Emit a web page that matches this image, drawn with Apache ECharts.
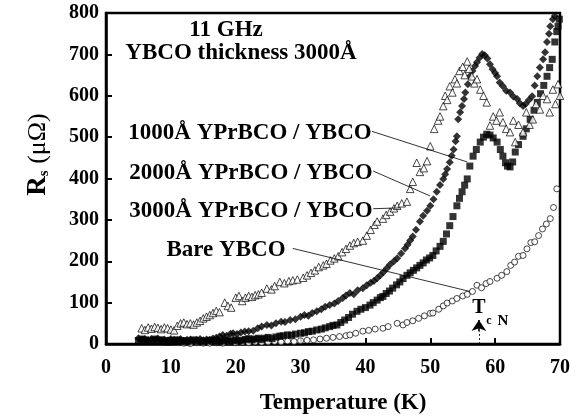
<!DOCTYPE html>
<html>
<head>
<meta charset="utf-8">
<script src="https://cdn.jsdelivr.net/npm/echarts@6/dist/echarts.min.js"></script>
<style>html,body{margin:0;padding:0;background:#fff}#c{width:577px;height:420px}</style>
</head>
<body>
<div id="c"></div>
<script>
// ---- data ----
const xTicks = [0, 10, 20, 30, 40, 50, 60, 70];
const yTicks = [0, 100, 200, 300, 400, 500, 600, 700, 800];

// 1000Å YPrBCO / YBCO (open triangles)
const t1000 = [5.5,6.0,6.5,7.0,7.5,8.0,8.5,9.0,9.5,10.0,10.5,11.0,11.5,12.0,12.5,13.0,13.5,14.0,14.5,15.0,15.5,16.0,16.5,17.0,17.5,18.3,18.8,19.3,20.0,20.5,21.0,21.5,22.0,22.5,23.0,23.5,24.0,24.8,25.5,26.0,26.8,27.5,28.2,28.8,29.5,30.4,31.0,31.6,32.2,32.8,33.5,34.0,34.6,35.2,35.8,36.4,37.0,37.6,38.2,38.8,39.6,40.2,40.8,41.4,41.8,42.7,43.2,43.8,44.4,44.9,45.6,46.4,46.9,47.3,47.9,48.4,49.0,49.5,50.0,50.6,51.2,51.5,52.0,52.3,52.6,53.0,53.4,53.8,54.1,54.5,55.0,55.3,55.7,56.0,56.4,56.8,57.2,57.7,58.2,58.7,59.2,59.7,60.2,60.7,61.2,61.7,62.3,62.8,63.1,63.6,64.3,64.8,65.3,65.8,66.3,66.9,67.4,68.0,68.4,68.9,69.3,69.7,70.0];
const r1000 = [38,34,40,37,41,39,36,40,38,35,33,44,50,52,48,50,47,52,56,62,66,70,75,80,77,100,92,88,112,116,104,112,116,114,118,120,124,134,132,140,150,147,152,154,156,160,166,172,178,186,190,194,202,207,212,222,230,238,244,247,250,262,276,288,296,303,312,320,328,334,340,344,375,392,438,416,425,442,478,520,540,550,575,600,590,623,608,640,630,660,670,650,683,665,647,630,640,615,600,584,528,550,540,560,536,520,512,540,488,530,512,560,530,543,580,567,600,592,560,615,580,628,600];

// 2000Å YPrBCO / YBCO (filled diamonds)
const t2000 = [5.0,5.5,6.0,6.5,7.0,7.5,8.0,8.5,9.0,9.5,10.0,10.5,11.0,11.5,12.0,12.5,13.0,13.5,14.0,14.5,15.0,15.5,16.0,16.5,17.0,17.5,18.0,18.6,19.2,19.6,20.2,20.8,21.4,22.0,22.7,23.4,24.0,24.8,25.5,26.2,27.0,27.6,28.4,29.2,30.0,30.6,31.2,31.8,32.5,33.2,33.8,34.5,35.2,35.8,36.5,37.0,37.6,38.2,38.8,39.6,40.2,40.8,41.3,41.8,42.3,42.8,43.3,43.8,44.4,44.9,45.5,46.1,46.5,46.9,47.3,47.8,48.4,48.9,49.5,50.0,50.5,51.0,51.5,52.0,52.3,52.6,53.0,53.3,53.6,53.9,54.1,54.3,54.6,54.9,55.2,55.4,55.8,56.1,56.5,56.9,57.2,57.6,58.0,58.4,58.8,59.2,59.6,60.0,60.3,60.7,61.2,61.7,62.3,62.8,63.4,63.8,64.3,64.7,65.2,65.7,66.1,66.5,66.9,67.4,67.7,68.0,68.3,68.5,68.9,69.2];
const r2000 = [14,10,12,9,12,10,13,9,11,8,12,10,9,12,8,10,11,8,10,12,9,11,10,13,15,18,22,20,25,26,24,28,30,31,32,38,42,46,45,50,54,53,58,60,66,70,68,75,79,84,90,94,98,104,111,117,123,120,130,135,142,148,152,159,166,174,183,192,200,207,219,231,240,250,260,276,296,310,322,334,350,368,384,399,410,423,439,455,470,490,502,543,560,575,592,608,628,647,660,672,681,692,701,698,690,676,664,655,647,632,623,612,608,598,592,582,575,580,590,599,625,647,668,688,705,730,750,768,785,793];

// 3000Å YPrBCO / YBCO (filled squares)
const t3000 = [5.0,5.5,6.0,6.5,7.0,7.5,8.0,8.5,9.0,9.5,10.0,10.5,11.0,11.5,12.0,12.5,13.0,13.5,14.0,14.5,15.0,15.5,16.0,16.5,17.0,17.5,18.0,18.5,19.0,19.5,20.0,20.5,21.0,21.5,22.0,22.5,23.0,23.5,24.0,24.5,25.0,25.6,26.2,26.8,27.3,28.0,28.6,29.2,30.0,30.6,31.2,31.8,32.5,33.2,33.8,34.5,35.0,35.6,36.2,36.8,37.4,38.0,38.7,39.3,40.0,40.7,41.2,41.8,42.3,42.7,43.2,43.7,44.2,44.8,45.3,45.8,46.4,46.9,47.4,47.9,48.4,48.9,49.4,49.9,50.4,50.9,51.5,52.0,52.5,53.0,53.5,54.1,54.5,54.9,55.3,55.7,56.1,56.6,57.1,57.7,58.2,58.7,59.2,59.7,60.3,60.8,61.2,61.6,61.9,62.3,62.7,63.1,63.6,64.3,64.8,65.4,66.0,66.5,67.0,67.5,68.0,68.4,68.8,69.2,69.5,69.7,69.9];
const r3000 = [8,12,10,6,9,12,7,10,8,5,9,7,10,6,8,5,7,10,6,8,5,7,9,6,8,5,7,9,6,8,10,7,9,11,13,10,12,14,11,14,16,13,17,19,20,22,21,24,26,27,30,31,34,36,39,42,45,46,52,58,64,72,79,84,88,94,100,106,112,115,122,128,135,143,150,158,166,172,178,184,190,196,203,208,214,225,236,248,266,286,308,334,352,368,384,399,430,454,470,488,500,507,505,498,488,470,454,438,430,428,440,464,482,502,520,543,565,584,605,625,647,668,688,730,755,768,785];

// Bare YBCO (open circles)
const tBare = [12,13,14,15,16,17,18,19,20,21,22,23,24,25,26,27,28,29,30,31,32,33,34,35,36,37,37.6,38.5,39.6,40.5,41.5,42.7,43.5,44.9,45.8,46.4,47.3,48.2,49.1,50.0,50.4,51.3,52.0,52.6,53.4,54.1,55.0,55.7,56.5,57.2,57.9,58.6,59.2,60.3,61.0,61.8,62.4,63.0,63.6,64.3,64.9,65.5,66.1,66.7,67.3,67.9,68.5,69.0,69.5];
const rBare = [2,1,3,2,2,3,2,4,3,4,3,5,4,5,6,5,7,6,8,9,10,12,14,16,18,20,22,26,31,33,36,38,42,50,46,52,56,62,68,74,75,84,92,99,104,110,116,120,127,142,136,146,151,159,166,175,190,198,212,214,230,245,247,262,278,290,303,330,375];

// ---- chart ----
const FONT = '"Liberation Serif","Times New Roman",serif';
const chart = echarts.init(document.getElementById('c'), null, {renderer: 'canvas'});

function pts(t, r) { return t.map((v, i) => [v, r[i]]); }

const leaderStyle = {color: '#000', width: 0.8, type: 'solid'};

chart.setOption({
  animation: false,
  backgroundColor: '#fff',
  grid: {left: 106, right: 17, top: 13, bottom: 74, show: true, borderColor: '#000', borderWidth: 2.5, backgroundColor: 'transparent'},
  xAxis: {
    type: 'value', min: xTicks[0], max: xTicks[xTicks.length - 1], interval: 10,
    name: 'Temperature (K)', nameLocation: 'middle', nameGap: 48,
    nameTextStyle: {fontFamily: FONT, fontWeight: 'bold', fontSize: 23, color: '#000', padding: [0, 0, 0, 20]},
    axisLine: {show: true, onZero: false, lineStyle: {color: '#000', width: 2.5}},
    axisTick: {show: true, inside: true, length: 6, lineStyle: {color: '#000', width: 2}},
    axisLabel: {fontFamily: FONT, fontWeight: 'bold', fontSize: 20, color: '#000', margin: 14},
    splitLine: {show: false}
  },
  yAxis: {
    type: 'value', min: yTicks[0], max: yTicks[yTicks.length - 1], interval: 100,
    name: '{r|R}{s|s}{u| (μΩ)}', nameLocation: 'middle', nameGap: 54, nameRotate: 90,
    nameTextStyle: {
      color: '#000', padding: [0, 0, 0, 48],
      rich: {
        r: {fontFamily: FONT, fontWeight: 'bold', fontSize: 27, color: '#000'},
        s: {fontFamily: FONT, fontWeight: 'bold', fontSize: 15, color: '#000', verticalAlign: 'bottom', padding: [12, 0, 0, 0]},
        u: {fontFamily: FONT, fontWeight: 'normal', fontSize: 26, color: '#000'}
      }
    },
    axisLine: {show: true, onZero: false, lineStyle: {color: '#000', width: 2.5}},
    axisTick: {show: true, inside: true, length: 6, lineStyle: {color: '#000', width: 2}},
    axisLabel: {fontFamily: FONT, fontWeight: 'bold', fontSize: 20, color: '#000', margin: 7},
    splitLine: {show: false}
  },
  series: [
    {
      name: 'Bare YBCO', type: 'scatter', data: pts(tBare, rBare),
      symbol: 'circle', symbolSize: 6,
      itemStyle: {color: '#fff', borderColor: '#000', borderWidth: 0.9},
      emphasis: {disabled: true}, silent: true,
      markLine: {
        silent: true, animation: false, label: {show: false}, symbol: ['none', 'none'],
        lineStyle: leaderStyle,
        data: [
          [{coord: [28.8, 231]}, {coord: [56.1, 127]}],
          [{coord: [57.5, 0], lineStyle: {type: [2, 2], width: 0.8, color: '#000'}}, {coord: [57.5, 30]}],
          [{coord: [57.5, 30], lineStyle: {type: 'solid', width: 1.6, color: '#000'}}, {coord: [57.5, 58], symbol: 'arrow', symbolSize: 11}]
        ]
      }
    },
    {
      name: '3000Å YPrBCO / YBCO', type: 'scatter', data: pts(t3000, r3000),
      symbol: 'rect', symbolSize: 7,
      itemStyle: {color: '#000'},
      emphasis: {disabled: true}, silent: true,
      markLine: {
        silent: true, animation: false, label: {show: false}, symbol: ['none', 'none'],
        lineStyle: leaderStyle,
        data: [[{coord: [41.2, 327]}, {coord: [45.3, 329]}]]
      }
    },
    {
      name: '2000Å YPrBCO / YBCO', type: 'scatter', data: pts(t2000, r2000),
      symbol: 'diamond', symbolSize: 8,
      itemStyle: {color: '#000'},
      emphasis: {disabled: true}, silent: true,
      markLine: {
        silent: true, animation: false, label: {show: false}, symbol: ['none', 'none'],
        lineStyle: leaderStyle,
        data: [[{coord: [41.2, 418]}, {coord: [49.95, 358]}]]
      }
    },
    {
      name: '1000Å YPrBCO / YBCO', type: 'scatter', data: pts(t1000, r1000),
      symbol: 'triangle', symbolSize: 7.5,
      itemStyle: {color: '#fff', borderColor: '#000', borderWidth: 0.9},
      emphasis: {disabled: true}, silent: true,
      markLine: {
        silent: true, animation: false, label: {show: false}, symbol: ['none', 'none'],
        lineStyle: leaderStyle,
        data: [[{coord: [41.0, 514]}, {coord: [55.7, 440]}]]
      }
    }
  ],
  graphic: [
    {type: 'text', x: 226, y: 30, silent: true, style: {text: '11 GHz', font: 'bold 23px ' + FONT, fill: '#000', align: 'center', verticalAlign: 'middle'}},
    {type: 'text', x: 241, y: 53, silent: true, style: {text: 'YBCO thickness 3000Å', font: 'bold 23px ' + FONT, fill: '#000', align: 'center', verticalAlign: 'middle'}},
    {type: 'text', x: 250, y: 133, silent: true, style: {text: '1000Å YPrBCO / YBCO', font: 'bold 23px ' + FONT, fill: '#000', align: 'center', verticalAlign: 'middle'}},
    {type: 'text', x: 251, y: 173, silent: true, style: {text: '2000Å YPrBCO / YBCO', font: 'bold 23px ' + FONT, fill: '#000', align: 'center', verticalAlign: 'middle'}},
    {type: 'text', x: 251, y: 211, silent: true, style: {text: '3000Å YPrBCO / YBCO', font: 'bold 23px ' + FONT, fill: '#000', align: 'center', verticalAlign: 'middle'}},
    {type: 'text', x: 226, y: 250, silent: true, style: {text: 'Bare YBCO', font: 'bold 23px ' + FONT, fill: '#000', align: 'center', verticalAlign: 'middle'}},
    {type: 'text', x: 479, y: 308, silent: true, style: {text: 'T', font: 'bold 20px ' + FONT, fill: '#000', align: 'center', verticalAlign: 'middle'}},
    {type: 'text', x: 489, y: 321, silent: true, style: {text: 'c', font: 'bold 12px ' + FONT, fill: '#000', align: 'center', verticalAlign: 'middle'}},
    {type: 'text', x: 503, y: 321, silent: true, style: {text: 'N', font: 'bold 15px ' + FONT, fill: '#000', align: 'center', verticalAlign: 'middle'}}
  ]
});
</script>
</body>
</html>
